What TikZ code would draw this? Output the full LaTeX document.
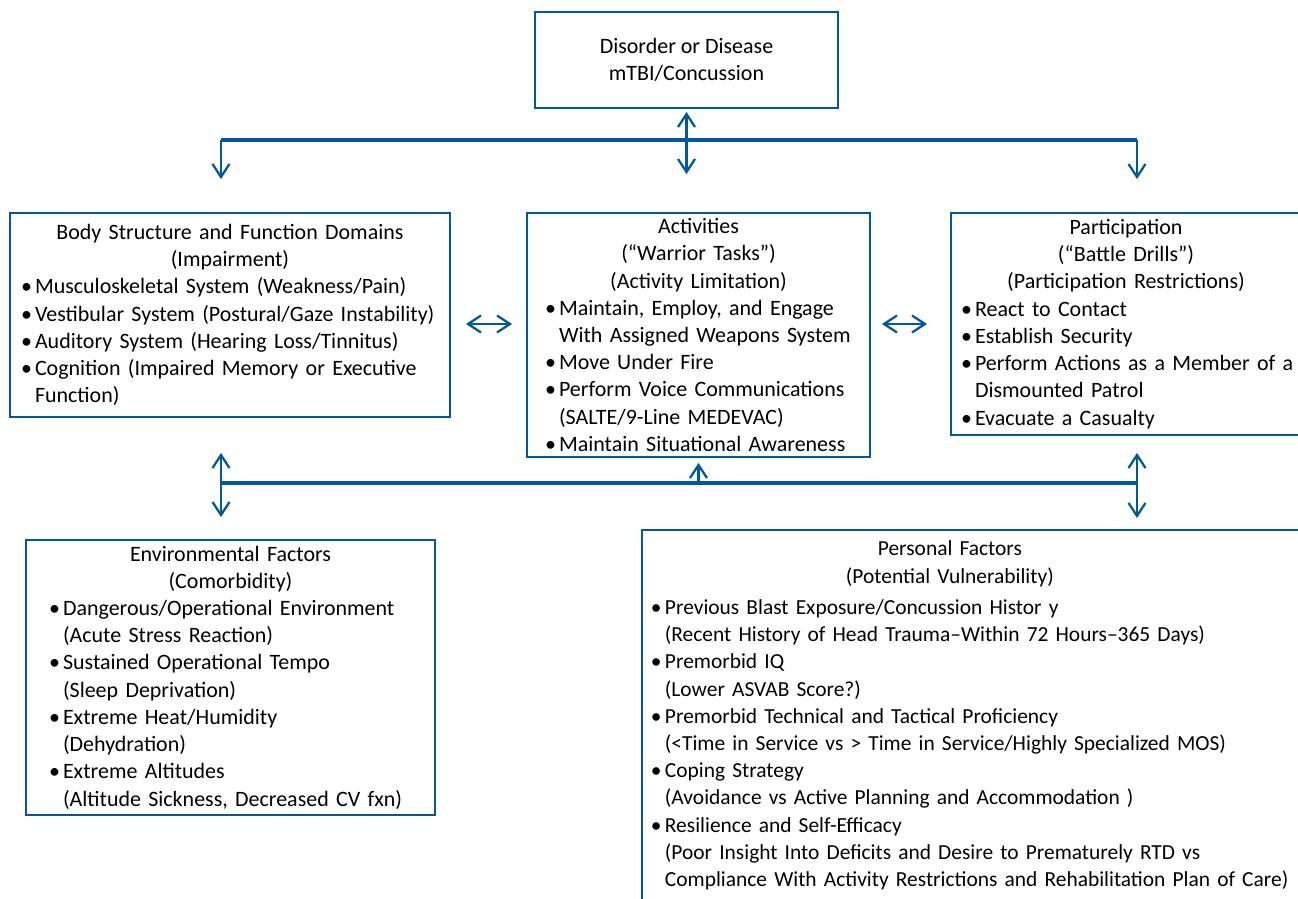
\documentclass[tikz,border=0pt]{standalone}
\usepackage{fontspec}
\setmainfont{Carlito}
\usepackage{tikz}
\usetikzlibrary{arrows.meta,positioning,calc}
\definecolor{icfblue}{RGB}{0,89,154}

\tikzset{
  box/.style={draw=icfblue, line width=1.1pt, inner sep=0pt, align=left,
    font=\fontsize{12.5}{15.5}\selectfont},
  bus/.style={draw=icfblue, line width=2.2pt},
  link/.style={draw=icfblue, line width=1.3pt},
  >={Straight Barb[length=0.26cm,width=0.34cm]}
}
\newcommand{\bul}[1]{\par\noindent\hangindent=0.28cm\hangafter=1\makebox[0.28cm][l]{\textbullet}#1}

\begin{document}
\begin{tikzpicture}[x=0.02cm,y=-0.02cm]
      \useasboundingbox (0,0) rectangle (1298,899);
      % Define nodes
      \node[box, align=center, minimum width=6.06cm, minimum height=1.92cm] (dis) at (686.5,60)
        {Disorder or Disease\\mTBI/Concussion};
      \node[box, minimum width=8.8cm, minimum height=4.08cm, text width=8.36cm] (body) at (230,315)
        {{\centering Body Structure and Function Domains\\(Impairment)\par}
         \bul{Musculoskeletal System (Weakness/Pain)}
         \bul{Vestibular System (Postural/Gaze Instability)}
         \bul{Auditory System (Hearing Loss/Tinnitus)}
         \bul{Cognition (Impaired Memory or Executive\newline Function)}\par};
      \node[box, minimum width=6.86cm, minimum height=4.88cm, text width=6.14cm] (act) at (698.5,335)
        {{\centering Activities\\(“Warrior Tasks”)\\(Activity Limitation)\par}
         \bul{Maintain, Employ, and Engage\newline With Assigned Weapons System}
         \bul{Move Under Fire}
         \bul{Perform Voice Communications\newline (SALTE/9-Line MEDEVAC)}
         \bul{Maintain Situational Awareness}\par};
      \node[box, minimum width=7cm, minimum height=4.44cm, text width=6.6cm] (part) at (1126,324)
        {{\centering Participation\\(“Battle Drills”)\\(Participation Restrictions)\par}
         \bul{React to Contact}
         \bul{Establish Security}
         \bul{\mbox{Perform Actions as a Member of a}\newline Dismounted Patrol}
         \bul{Evacuate a Casualty}\par};
      \node[box, minimum width=8.18cm, minimum height=5.5cm, text width=7.26cm] (env) at (230.5,677.5)
        {{\centering Environmental Factors\\(Comorbidity)\par}
         \bul{Dangerous/Operational Environment\newline (Acute Stress Reaction)}
         \bul{Sustained Operational Tempo\newline (Sleep Deprivation)}
         \bul{Extreme Heat/Humidity\newline (Dehydration)}
         \bul{Extreme Altitudes\newline (Altitude Sickness, Decreased CV fxn)}\par};
      \node[box, font=\fontsize{12.2}{15.5}\selectfont, anchor=north west, inner xsep=0.18cm, inner ysep=0.22cm, text width=13.02cm] (pers) at (641,529)
        {\noindent\makebox[11.96cm]{Personal Factors}\par
         \noindent\makebox[11.96cm]{(Potential Vulnerability)}\par\vspace{0.08cm}
         \bul{Previous Blast Exposure/Concussion Histor y\newline (Recent History of Head Trauma–Within 72 Hours–365 Days)}
         \bul{Premorbid IQ\newline (Lower ASVAB Score?)}
         \bul{Premorbid Technical and Tactical Proficiency\newline (<Time in Service vs > Time in Service/Highly Specialized MOS)}
         \bul{Coping Strategy\newline (Avoidance vs Active Planning and Accommodation )}
         \bul{Resilience and Self-Efficacy\newline (Poor Insight Into Deficits and Desire to Prematurely RTD vs\newline
           \mbox{Compliance With Activity Restrictions and Rehabilitation Plan of Care)}}
         \par\vspace*{1.2cm}};

      \coordinate (topL) at (221,140);
      \coordinate (topR) at (1137,140);
      \coordinate (botL) at (221,483);
      \coordinate (botR) at (1137,483);

      % Draw edges
      \draw[bus] (topL) -- (topR);
      \draw[bus] (botL) -- (botR);
      \draw[link, <->, shorten <=0.06cm, shorten >=0.76cm] (dis.south) -- (dis.south |- act.north);
      \draw[link, ->, shorten >=0.66cm] (topL) -- (topL |- body.north);
      \draw[link, ->, shorten >=0.66cm] (topR) -- (topR |- part.north);
      \draw[link, <->, shorten <=0.3cm, shorten >=0.28cm] (body.east |- part.west) -- (act.west |- part.west);
      \draw[link, <->, shorten <=0.22cm, shorten >=0.46cm] (act.east |- part.west) -- (part.west);
      \draw[link, <->, shorten <=0.7cm, shorten >=0.44cm] (botL |- body.south) -- (botL |- env.north);
      \draw[link, <->, shorten <=0.34cm, shorten >=0.22cm] (botR |- part.south) -- (botR |- pers.north);
      \draw[link, ->, shorten >=0.1cm] (act.south |- botL) -- (act.south);
    \end{tikzpicture}
\end{document}
